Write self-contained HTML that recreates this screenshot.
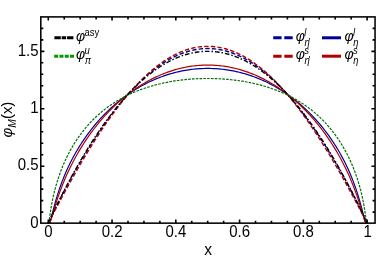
<!DOCTYPE html>
<html><head><meta charset="utf-8"><style>
html,body{margin:0;padding:0;background:#fff;}
svg{display:block;will-change:transform;}
text{font-family:"Liberation Sans",sans-serif;fill:#000;}
.i{font-style:italic;}
</style></head><body>
<svg width="377" height="259" viewBox="0 0 377 259">
<rect x="0" y="0" width="377" height="259" fill="#fff"/>
<defs><clipPath id="c"><rect x="40.8" y="16.9" width="334.25" height="206.25"/></clipPath></defs>
<g>
<g clip-path="url(#c)" fill="none" stroke-linejoin="round">
<polyline points="48.30,223.10 48.52,222.55 48.74,222.04 48.96,221.53 49.18,221.03 49.40,220.54 49.62,220.06 49.84,219.57 50.06,219.09 50.28,218.62 50.50,218.14 50.72,217.67 50.94,217.20 51.16,216.73 51.38,216.27 51.60,215.80 51.82,215.34 52.04,214.88 52.26,214.42 52.48,213.96 52.70,213.50 52.92,213.05 53.14,212.59 53.36,212.14 53.58,211.69 53.80,211.23 54.02,210.78 54.24,210.34 54.46,209.89 54.68,209.44 56.21,206.34 57.75,203.28 59.29,200.26 60.83,197.27 62.37,194.32 63.90,191.40 65.44,188.51 66.98,185.64 68.52,182.81 70.06,180.00 71.59,177.23 73.13,174.47 74.67,171.75 76.21,169.05 77.74,166.38 79.28,163.74 80.82,161.12 82.36,158.53 83.90,155.97 85.43,153.43 86.97,150.92 88.51,148.44 90.05,145.98 91.59,143.55 93.12,141.15 94.66,138.78 96.20,136.43 97.74,134.11 99.28,131.82 100.81,129.56 102.35,127.32 103.89,125.11 105.43,122.94 106.97,120.78 108.50,118.66 110.04,116.57 111.58,114.51 113.12,112.47 114.66,110.46 116.19,108.49 117.73,106.54 119.27,104.62 120.81,102.74 122.34,100.88 123.88,99.05 125.42,97.25 126.96,95.49 128.50,93.75 130.03,92.05 131.57,90.37 133.11,88.73 134.65,87.12 136.19,85.54 137.72,83.99 139.26,82.47 140.80,80.98 142.34,79.53 143.88,78.11 145.41,76.72 146.95,75.36 148.49,74.03 150.03,72.74 151.57,71.48 153.10,70.25 154.64,69.06 156.18,67.90 157.72,66.77 159.26,65.67 160.79,64.61 162.33,63.58 163.87,62.59 165.41,61.62 166.94,60.69 168.48,59.80 170.02,58.94 171.56,58.11 173.10,57.32 174.63,56.56 176.17,55.83 177.71,55.14 179.25,54.48 180.79,53.86 182.32,53.27 183.86,52.72 185.40,52.20 186.94,51.71 188.48,51.26 190.01,50.85 191.55,50.46 193.09,50.12 194.63,49.80 196.17,49.53 197.70,49.28 199.24,49.08 200.78,48.90 202.32,48.76 203.86,48.66 205.39,48.59 206.93,48.55 208.47,48.55 210.01,48.59 211.54,48.66 213.08,48.76 214.62,48.90 216.16,49.08 217.70,49.28 219.23,49.53 220.77,49.80 222.31,50.12 223.85,50.46 225.39,50.85 226.92,51.26 228.46,51.71 230.00,52.20 231.54,52.72 233.08,53.27 234.61,53.86 236.15,54.48 237.69,55.14 239.23,55.83 240.77,56.56 242.30,57.32 243.84,58.11 245.38,58.94 246.92,59.80 248.46,60.69 249.99,61.62 251.53,62.59 253.07,63.58 254.61,64.61 256.14,65.67 257.68,66.77 259.22,67.90 260.76,69.06 262.30,70.25 263.83,71.48 265.37,72.74 266.91,74.03 268.45,75.36 269.99,76.72 271.52,78.11 273.06,79.53 274.60,80.98 276.14,82.47 277.68,83.99 279.21,85.54 280.75,87.12 282.29,88.73 283.83,90.37 285.37,92.05 286.90,93.75 288.44,95.49 289.98,97.25 291.52,99.05 293.06,100.88 294.59,102.74 296.13,104.62 297.67,106.54 299.21,108.49 300.74,110.46 302.28,112.47 303.82,114.51 305.36,116.57 306.90,118.66 308.43,120.78 309.97,122.94 311.51,125.11 313.05,127.32 314.59,129.56 316.12,131.82 317.66,134.11 319.20,136.43 320.74,138.78 322.28,141.15 323.81,143.55 325.35,145.98 326.89,148.44 328.43,150.92 329.97,153.43 331.50,155.97 333.04,158.53 334.58,161.12 336.12,163.74 337.66,166.38 339.19,169.05 340.73,171.75 342.27,174.47 343.81,177.23 345.34,180.00 346.88,182.81 348.42,185.64 349.96,188.51 351.50,191.40 353.03,194.32 354.57,197.27 356.11,200.26 357.65,203.28 359.19,206.34 360.72,209.44 360.94,209.89 361.16,210.34 361.38,210.78 361.60,211.23 361.82,211.69 362.04,212.14 362.26,212.59 362.48,213.05 362.70,213.50 362.92,213.96 363.14,214.42 363.36,214.88 363.58,215.34 363.80,215.80 364.02,216.27 364.24,216.73 364.46,217.20 364.68,217.67 364.90,218.14 365.12,218.62 365.34,219.09 365.56,219.57 365.78,220.06 366.00,220.54 366.22,221.03 366.44,221.53 366.66,222.04 366.88,222.55 367.10,223.10" stroke="#000099" stroke-width="1.4" stroke-dasharray="4.4 2.2"/>
<polyline points="48.30,223.10 48.52,222.69 48.74,222.28 48.96,221.86 49.18,221.45 49.40,221.03 49.62,220.61 49.84,220.19 50.06,219.77 50.28,219.35 50.50,218.94 50.72,218.52 50.94,218.10 51.16,217.68 51.38,217.26 51.60,216.84 51.82,216.42 52.04,216.00 52.26,215.58 52.48,215.16 52.70,214.74 52.92,214.32 53.14,213.90 53.36,213.48 53.58,213.06 53.80,212.64 54.02,212.23 54.24,211.81 54.46,211.39 54.68,210.97 56.21,208.05 57.75,205.14 59.29,202.25 60.83,199.37 62.37,196.50 63.90,193.65 65.44,190.81 66.98,187.99 68.52,185.19 70.06,182.40 71.59,179.64 73.13,176.89 74.67,174.16 76.21,171.45 77.74,168.77 79.28,166.10 80.82,163.45 82.36,160.83 83.90,158.23 85.43,155.65 86.97,153.09 88.51,150.56 90.05,148.05 91.59,145.57 93.12,143.11 94.66,140.67 96.20,138.26 97.74,135.87 99.28,133.51 100.81,131.18 102.35,128.87 103.89,126.59 105.43,124.34 106.97,122.11 108.50,119.91 110.04,117.74 111.58,115.60 113.12,113.48 114.66,111.40 116.19,109.34 117.73,107.31 119.27,105.31 120.81,103.35 122.34,101.41 123.88,99.50 125.42,97.62 126.96,95.77 128.50,93.96 130.03,92.17 131.57,90.42 133.11,88.70 134.65,87.01 136.19,85.35 137.72,83.72 139.26,82.13 140.80,80.57 142.34,79.04 143.88,77.55 145.41,76.08 146.95,74.65 148.49,73.26 150.03,71.90 151.57,70.57 153.10,69.28 154.64,68.02 156.18,66.79 157.72,65.60 159.26,64.45 160.79,63.33 162.33,62.24 163.87,61.19 165.41,60.17 166.94,59.19 168.48,58.24 170.02,57.33 171.56,56.46 173.10,55.62 174.63,54.82 176.17,54.05 177.71,53.32 179.25,52.62 180.79,51.96 182.32,51.34 183.86,50.76 185.40,50.20 186.94,49.69 188.48,49.21 190.01,48.77 191.55,48.37 193.09,48.00 194.63,47.67 196.17,47.37 197.70,47.12 199.24,46.90 200.78,46.71 202.32,46.56 203.86,46.45 205.39,46.38 206.93,46.34 208.47,46.34 210.01,46.38 211.54,46.45 213.08,46.56 214.62,46.71 216.16,46.90 217.70,47.12 219.23,47.37 220.77,47.67 222.31,48.00 223.85,48.37 225.39,48.77 226.92,49.21 228.46,49.69 230.00,50.20 231.54,50.76 233.08,51.34 234.61,51.96 236.15,52.62 237.69,53.32 239.23,54.05 240.77,54.82 242.30,55.62 243.84,56.46 245.38,57.33 246.92,58.24 248.46,59.19 249.99,60.17 251.53,61.19 253.07,62.24 254.61,63.33 256.14,64.45 257.68,65.60 259.22,66.79 260.76,68.02 262.30,69.28 263.83,70.57 265.37,71.90 266.91,73.26 268.45,74.65 269.99,76.08 271.52,77.55 273.06,79.04 274.60,80.57 276.14,82.13 277.68,83.72 279.21,85.35 280.75,87.01 282.29,88.70 283.83,90.42 285.37,92.17 286.90,93.96 288.44,95.77 289.98,97.62 291.52,99.50 293.06,101.41 294.59,103.35 296.13,105.31 297.67,107.31 299.21,109.34 300.74,111.40 302.28,113.48 303.82,115.60 305.36,117.74 306.90,119.91 308.43,122.11 309.97,124.34 311.51,126.59 313.05,128.87 314.59,131.18 316.12,133.51 317.66,135.87 319.20,138.26 320.74,140.67 322.28,143.11 323.81,145.57 325.35,148.05 326.89,150.56 328.43,153.09 329.97,155.65 331.50,158.23 333.04,160.83 334.58,163.45 336.12,166.10 337.66,168.77 339.19,171.45 340.73,174.16 342.27,176.89 343.81,179.64 345.34,182.40 346.88,185.19 348.42,187.99 349.96,190.81 351.50,193.65 353.03,196.50 354.57,199.37 356.11,202.25 357.65,205.14 359.19,208.05 360.72,210.97 360.94,211.39 361.16,211.81 361.38,212.23 361.60,212.64 361.82,213.06 362.04,213.48 362.26,213.90 362.48,214.32 362.70,214.74 362.92,215.16 363.14,215.58 363.36,216.00 363.58,216.42 363.80,216.84 364.02,217.26 364.24,217.68 364.46,218.10 364.68,218.52 364.90,218.94 365.12,219.35 365.34,219.77 365.56,220.19 365.78,220.61 366.00,221.03 366.22,221.45 366.44,221.86 366.66,222.28 366.88,222.69 367.10,223.10" stroke="#b20000" stroke-width="1.4" stroke-dasharray="4.4 2.2"/>
<polyline points="48.30,223.10 48.52,223.10 48.74,223.10 48.96,223.09 49.18,223.03 49.40,222.87 49.62,222.60 49.84,222.20 50.06,221.71 50.28,221.12 50.50,220.46 50.72,219.74 50.94,218.97 51.16,218.18 51.38,217.35 51.60,216.51 51.82,215.66 52.04,214.79 52.26,213.93 52.48,213.06 52.70,212.19 52.92,211.32 53.14,210.46 53.36,209.60 53.58,208.75 53.80,207.91 54.02,207.07 54.24,206.24 54.46,205.42 54.68,204.61 56.21,199.16 57.75,194.11 59.29,189.41 60.83,185.02 62.37,180.90 63.90,177.01 65.44,173.33 66.98,169.83 68.52,166.50 70.06,163.32 71.59,160.27 73.13,157.34 74.67,154.52 76.21,151.81 77.74,149.19 79.28,146.66 80.82,144.21 82.36,141.84 83.90,139.55 85.43,137.32 86.97,135.17 88.51,133.07 90.05,131.03 91.59,129.05 93.12,127.12 94.66,125.25 96.20,123.42 97.74,121.64 99.28,119.91 100.81,118.22 102.35,116.57 103.89,114.97 105.43,113.41 106.97,111.88 108.50,110.39 110.04,108.94 111.58,107.52 113.12,106.14 114.66,104.79 116.19,103.47 117.73,102.19 119.27,100.94 120.81,99.72 122.34,98.52 123.88,97.36 125.42,96.23 126.96,95.12 128.50,94.04 130.03,92.99 131.57,91.96 133.11,90.96 134.65,89.99 136.19,89.04 137.72,88.12 139.26,87.22 140.80,86.34 142.34,85.49 143.88,84.67 145.41,83.86 146.95,83.08 148.49,82.32 150.03,81.58 151.57,80.87 153.10,80.18 154.64,79.50 156.18,78.85 157.72,78.23 159.26,77.62 160.79,77.03 162.33,76.46 163.87,75.92 165.41,75.39 166.94,74.89 168.48,74.40 170.02,73.93 171.56,73.49 173.10,73.06 174.63,72.65 176.17,72.27 177.71,71.90 179.25,71.55 180.79,71.21 182.32,70.90 183.86,70.61 185.40,70.33 186.94,70.08 188.48,69.84 190.01,69.62 191.55,69.42 193.09,69.24 194.63,69.08 196.17,68.93 197.70,68.80 199.24,68.69 200.78,68.60 202.32,68.53 203.86,68.48 205.39,68.44 206.93,68.42 208.47,68.42 210.01,68.44 211.54,68.48 213.08,68.53 214.62,68.60 216.16,68.69 217.70,68.80 219.23,68.93 220.77,69.08 222.31,69.24 223.85,69.42 225.39,69.62 226.92,69.84 228.46,70.08 230.00,70.33 231.54,70.61 233.08,70.90 234.61,71.21 236.15,71.55 237.69,71.90 239.23,72.27 240.77,72.65 242.30,73.06 243.84,73.49 245.38,73.93 246.92,74.40 248.46,74.89 249.99,75.39 251.53,75.92 253.07,76.46 254.61,77.03 256.14,77.62 257.68,78.23 259.22,78.85 260.76,79.50 262.30,80.18 263.83,80.87 265.37,81.58 266.91,82.32 268.45,83.08 269.99,83.86 271.52,84.67 273.06,85.49 274.60,86.34 276.14,87.22 277.68,88.12 279.21,89.04 280.75,89.99 282.29,90.96 283.83,91.96 285.37,92.99 286.90,94.04 288.44,95.12 289.98,96.23 291.52,97.36 293.06,98.52 294.59,99.72 296.13,100.94 297.67,102.19 299.21,103.47 300.74,104.79 302.28,106.14 303.82,107.52 305.36,108.94 306.90,110.39 308.43,111.88 309.97,113.41 311.51,114.97 313.05,116.57 314.59,118.22 316.12,119.91 317.66,121.64 319.20,123.42 320.74,125.25 322.28,127.12 323.81,129.05 325.35,131.03 326.89,133.07 328.43,135.17 329.97,137.32 331.50,139.55 333.04,141.84 334.58,144.21 336.12,146.66 337.66,149.19 339.19,151.81 340.73,154.52 342.27,157.34 343.81,160.27 345.34,163.32 346.88,166.50 348.42,169.83 349.96,173.33 351.50,177.01 353.03,180.90 354.57,185.02 356.11,189.41 357.65,194.11 359.19,199.16 360.72,204.61 360.94,205.42 361.16,206.24 361.38,207.07 361.60,207.91 361.82,208.75 362.04,209.60 362.26,210.46 362.48,211.32 362.70,212.19 362.92,213.06 363.14,213.93 363.36,214.79 363.58,215.66 363.80,216.51 364.02,217.35 364.24,218.18 364.46,218.97 364.68,219.74 364.90,220.46 365.12,221.12 365.34,221.71 365.56,222.20 365.78,222.60 366.00,222.87 366.22,223.03 366.44,223.09 366.66,223.10 366.88,223.10 367.10,223.10" stroke="#000099" stroke-width="1.2"/>
<polyline points="48.30,223.10 48.52,223.10 48.74,223.10 48.96,223.09 49.18,223.05 49.40,222.94 49.62,222.73 49.84,222.44 50.06,222.05 50.28,221.59 50.50,221.07 50.72,220.49 50.94,219.87 51.16,219.21 51.38,218.53 51.60,217.83 51.82,217.11 52.04,216.38 52.26,215.64 52.48,214.90 52.70,214.15 52.92,213.40 53.14,212.65 53.36,211.90 53.58,211.15 53.80,210.41 54.02,209.66 54.24,208.93 54.46,208.19 54.68,207.46 56.21,202.51 57.75,197.82 59.29,193.39 60.83,189.19 62.37,185.21 63.90,181.41 65.44,177.78 66.98,174.31 68.52,170.97 70.06,167.76 71.59,164.66 73.13,161.67 74.67,158.79 76.21,155.99 77.74,153.28 79.28,150.65 80.82,148.10 82.36,145.62 83.90,143.21 85.43,140.86 86.97,138.57 88.51,136.35 90.05,134.18 91.59,132.07 93.12,130.00 94.66,127.99 96.20,126.03 97.74,124.11 99.28,122.24 100.81,120.42 102.35,118.63 103.89,116.89 105.43,115.19 106.97,113.52 108.50,111.90 110.04,110.31 111.58,108.76 113.12,107.24 114.66,105.76 116.19,104.31 117.73,102.90 119.27,101.52 120.81,100.17 122.34,98.85 123.88,97.56 125.42,96.30 126.96,95.08 128.50,93.88 130.03,92.71 131.57,91.57 133.11,90.45 134.65,89.37 136.19,88.31 137.72,87.28 139.26,86.27 140.80,85.29 142.34,84.34 143.88,83.41 145.41,82.51 146.95,81.63 148.49,80.78 150.03,79.95 151.57,79.15 153.10,78.37 154.64,77.61 156.18,76.88 157.72,76.17 159.26,75.49 160.79,74.82 162.33,74.18 163.87,73.57 165.41,72.97 166.94,72.40 168.48,71.85 170.02,71.32 171.56,70.82 173.10,70.33 174.63,69.87 176.17,69.43 177.71,69.01 179.25,68.62 180.79,68.24 182.32,67.89 183.86,67.55 185.40,67.24 186.94,66.95 188.48,66.68 190.01,66.43 191.55,66.21 193.09,66.00 194.63,65.81 196.17,65.65 197.70,65.50 199.24,65.38 200.78,65.28 202.32,65.19 203.86,65.13 205.39,65.09 206.93,65.07 208.47,65.07 210.01,65.09 211.54,65.13 213.08,65.19 214.62,65.28 216.16,65.38 217.70,65.50 219.23,65.65 220.77,65.81 222.31,66.00 223.85,66.21 225.39,66.43 226.92,66.68 228.46,66.95 230.00,67.24 231.54,67.55 233.08,67.89 234.61,68.24 236.15,68.62 237.69,69.01 239.23,69.43 240.77,69.87 242.30,70.33 243.84,70.82 245.38,71.32 246.92,71.85 248.46,72.40 249.99,72.97 251.53,73.57 253.07,74.18 254.61,74.82 256.14,75.49 257.68,76.17 259.22,76.88 260.76,77.61 262.30,78.37 263.83,79.15 265.37,79.95 266.91,80.78 268.45,81.63 269.99,82.51 271.52,83.41 273.06,84.34 274.60,85.29 276.14,86.27 277.68,87.28 279.21,88.31 280.75,89.37 282.29,90.45 283.83,91.57 285.37,92.71 286.90,93.88 288.44,95.08 289.98,96.30 291.52,97.56 293.06,98.85 294.59,100.17 296.13,101.52 297.67,102.90 299.21,104.31 300.74,105.76 302.28,107.24 303.82,108.76 305.36,110.31 306.90,111.90 308.43,113.52 309.97,115.19 311.51,116.89 313.05,118.63 314.59,120.42 316.12,122.24 317.66,124.11 319.20,126.03 320.74,127.99 322.28,130.00 323.81,132.07 325.35,134.18 326.89,136.35 328.43,138.57 329.97,140.86 331.50,143.21 333.04,145.62 334.58,148.10 336.12,150.65 337.66,153.28 339.19,155.99 340.73,158.79 342.27,161.67 343.81,164.66 345.34,167.76 346.88,170.97 348.42,174.31 349.96,177.78 351.50,181.41 353.03,185.21 354.57,189.19 356.11,193.39 357.65,197.82 359.19,202.51 360.72,207.46 360.94,208.19 361.16,208.93 361.38,209.66 361.60,210.41 361.82,211.15 362.04,211.90 362.26,212.65 362.48,213.40 362.70,214.15 362.92,214.90 363.14,215.64 363.36,216.38 363.58,217.11 363.80,217.83 364.02,218.53 364.24,219.21 364.46,219.87 364.68,220.49 364.90,221.07 365.12,221.59 365.34,222.05 365.56,222.44 365.78,222.73 366.00,222.94 366.22,223.05 366.44,223.09 366.66,223.10 366.88,223.10 367.10,223.10" stroke="#b20000" stroke-width="1.2"/>
<polyline points="48.30,223.10 48.52,222.63 48.74,222.15 48.96,221.68 49.18,221.21 49.40,220.74 49.62,220.27 49.84,219.80 50.06,219.33 50.28,218.86 50.50,218.39 50.72,217.93 50.94,217.46 51.16,217.00 51.38,216.53 51.60,216.07 51.82,215.60 52.04,215.14 52.26,214.68 52.48,214.22 52.70,213.75 52.92,213.29 53.14,212.83 53.36,212.38 53.58,211.92 53.80,211.46 54.02,211.00 54.24,210.55 54.46,210.09 54.68,209.63 56.21,206.47 57.75,203.34 59.29,200.23 60.83,197.16 62.37,194.13 63.90,191.12 65.44,188.15 66.98,185.21 68.52,182.30 70.06,179.42 71.59,176.57 73.13,173.76 74.67,170.98 76.21,168.23 77.74,165.51 79.28,162.82 80.82,160.17 82.36,157.55 83.90,154.96 85.43,152.40 86.97,149.87 88.51,147.38 90.05,144.92 91.59,142.49 93.12,140.09 94.66,137.72 96.20,135.39 97.74,133.08 99.28,130.81 100.81,128.58 102.35,126.37 103.89,124.20 105.43,122.05 106.97,119.94 108.50,117.86 110.04,115.82 111.58,113.80 113.12,111.82 114.66,109.87 116.19,107.95 117.73,106.06 119.27,104.21 120.81,102.39 122.34,100.60 123.88,98.84 125.42,97.11 126.96,95.42 128.50,93.75 130.03,92.12 131.57,90.52 133.11,88.96 134.65,87.42 136.19,85.92 137.72,84.45 139.26,83.01 140.80,81.60 142.34,80.23 143.88,78.89 145.41,77.57 146.95,76.30 148.49,75.05 150.03,73.83 151.57,72.65 153.10,71.50 154.64,70.38 156.18,69.29 157.72,68.24 159.26,67.21 160.79,66.22 162.33,65.26 163.87,64.34 165.41,63.44 166.94,62.58 168.48,61.75 170.02,60.95 171.56,60.18 173.10,59.44 174.63,58.74 176.17,58.07 177.71,57.43 179.25,56.82 180.79,56.25 182.32,55.70 183.86,55.19 185.40,54.71 186.94,54.26 188.48,53.85 190.01,53.46 191.55,53.11 193.09,52.79 194.63,52.51 196.17,52.25 197.70,52.03 199.24,51.83 200.78,51.67 202.32,51.55 203.86,51.45 205.39,51.39 206.93,51.35 208.47,51.35 210.01,51.39 211.54,51.45 213.08,51.55 214.62,51.67 216.16,51.83 217.70,52.03 219.23,52.25 220.77,52.51 222.31,52.79 223.85,53.11 225.39,53.46 226.92,53.85 228.46,54.26 230.00,54.71 231.54,55.19 233.08,55.70 234.61,56.25 236.15,56.82 237.69,57.43 239.23,58.07 240.77,58.74 242.30,59.44 243.84,60.18 245.38,60.95 246.92,61.75 248.46,62.58 249.99,63.44 251.53,64.34 253.07,65.26 254.61,66.22 256.14,67.21 257.68,68.24 259.22,69.29 260.76,70.38 262.30,71.50 263.83,72.65 265.37,73.83 266.91,75.05 268.45,76.30 269.99,77.57 271.52,78.89 273.06,80.23 274.60,81.60 276.14,83.01 277.68,84.45 279.21,85.92 280.75,87.42 282.29,88.96 283.83,90.52 285.37,92.12 286.90,93.75 288.44,95.42 289.98,97.11 291.52,98.84 293.06,100.60 294.59,102.39 296.13,104.21 297.67,106.06 299.21,107.95 300.74,109.87 302.28,111.82 303.82,113.80 305.36,115.82 306.90,117.86 308.43,119.94 309.97,122.05 311.51,124.20 313.05,126.37 314.59,128.58 316.12,130.81 317.66,133.08 319.20,135.39 320.74,137.72 322.28,140.09 323.81,142.49 325.35,144.92 326.89,147.38 328.43,149.87 329.97,152.40 331.50,154.96 333.04,157.55 334.58,160.17 336.12,162.82 337.66,165.51 339.19,168.23 340.73,170.98 342.27,173.76 343.81,176.57 345.34,179.42 346.88,182.30 348.42,185.21 349.96,188.15 351.50,191.12 353.03,194.13 354.57,197.16 356.11,200.23 357.65,203.34 359.19,206.47 360.72,209.63 360.94,210.09 361.16,210.55 361.38,211.00 361.60,211.46 361.82,211.92 362.04,212.38 362.26,212.83 362.48,213.29 362.70,213.75 362.92,214.22 363.14,214.68 363.36,215.14 363.58,215.60 363.80,216.07 364.02,216.53 364.24,217.00 364.46,217.46 364.68,217.93 364.90,218.39 365.12,218.86 365.34,219.33 365.56,219.80 365.78,220.27 366.00,220.74 366.22,221.21 366.44,221.68 366.66,222.15 366.88,222.63 367.10,223.10" stroke="#000" stroke-width="1.4" stroke-dasharray="4.6 2.0 1.5 2.0"/>
<polyline points="48.30,223.10 48.52,223.09 48.74,222.73 48.96,221.75 49.18,220.39 49.40,218.86 49.62,217.29 49.84,215.72 50.06,214.18 50.28,212.68 50.50,211.23 50.72,209.83 50.94,208.47 51.16,207.16 51.38,205.89 51.60,204.66 51.82,203.47 52.04,202.32 52.26,201.20 52.48,200.10 52.70,199.04 52.92,198.00 53.14,196.99 53.36,196.00 53.58,195.04 53.80,194.09 54.02,193.17 54.24,192.27 54.46,191.38 54.68,190.51 56.21,184.85 57.75,179.80 59.29,175.20 60.83,170.98 62.37,167.07 63.90,163.43 65.44,160.00 66.98,156.78 68.52,153.73 70.06,150.84 71.59,148.09 73.13,145.47 74.67,142.97 76.21,140.58 77.74,138.29 79.28,136.09 80.82,133.98 82.36,131.96 83.90,130.01 85.43,128.13 86.97,126.32 88.51,124.58 90.05,122.89 91.59,121.27 93.12,119.70 94.66,118.19 96.20,116.72 97.74,115.31 99.28,113.94 100.81,112.61 102.35,111.33 103.89,110.09 105.43,108.89 106.97,107.73 108.50,106.60 110.04,105.51 111.58,104.45 113.12,103.43 114.66,102.43 116.19,101.47 117.73,100.54 119.27,99.63 120.81,98.76 122.34,97.91 123.88,97.09 125.42,96.29 126.96,95.52 128.50,94.77 130.03,94.05 131.57,93.34 133.11,92.66 134.65,92.00 136.19,91.37 137.72,90.75 139.26,90.15 140.80,89.57 142.34,89.01 143.88,88.47 145.41,87.95 146.95,87.44 148.49,86.96 150.03,86.48 151.57,86.03 153.10,85.59 154.64,85.17 156.18,84.76 157.72,84.37 159.26,83.99 160.79,83.62 162.33,83.28 163.87,82.94 165.41,82.62 166.94,82.31 168.48,82.02 170.02,81.73 171.56,81.46 173.10,81.21 174.63,80.96 176.17,80.73 177.71,80.51 179.25,80.30 180.79,80.11 182.32,79.92 183.86,79.75 185.40,79.59 186.94,79.44 188.48,79.30 190.01,79.17 191.55,79.06 193.09,78.95 194.63,78.86 196.17,78.77 197.70,78.70 199.24,78.63 200.78,78.58 202.32,78.54 203.86,78.51 205.39,78.49 206.93,78.48 208.47,78.48 210.01,78.49 211.54,78.51 213.08,78.54 214.62,78.58 216.16,78.63 217.70,78.70 219.23,78.77 220.77,78.86 222.31,78.95 223.85,79.06 225.39,79.17 226.92,79.30 228.46,79.44 230.00,79.59 231.54,79.75 233.08,79.92 234.61,80.11 236.15,80.30 237.69,80.51 239.23,80.73 240.77,80.96 242.30,81.21 243.84,81.46 245.38,81.73 246.92,82.02 248.46,82.31 249.99,82.62 251.53,82.94 253.07,83.28 254.61,83.62 256.14,83.99 257.68,84.37 259.22,84.76 260.76,85.17 262.30,85.59 263.83,86.03 265.37,86.48 266.91,86.96 268.45,87.44 269.99,87.95 271.52,88.47 273.06,89.01 274.60,89.57 276.14,90.15 277.68,90.75 279.21,91.37 280.75,92.00 282.29,92.66 283.83,93.34 285.37,94.05 286.90,94.77 288.44,95.52 289.98,96.29 291.52,97.09 293.06,97.91 294.59,98.76 296.13,99.63 297.67,100.54 299.21,101.47 300.74,102.43 302.28,103.43 303.82,104.45 305.36,105.51 306.90,106.60 308.43,107.73 309.97,108.89 311.51,110.09 313.05,111.33 314.59,112.61 316.12,113.94 317.66,115.31 319.20,116.72 320.74,118.19 322.28,119.70 323.81,121.27 325.35,122.89 326.89,124.58 328.43,126.32 329.97,128.13 331.50,130.01 333.04,131.96 334.58,133.98 336.12,136.09 337.66,138.29 339.19,140.58 340.73,142.97 342.27,145.47 343.81,148.09 345.34,150.84 346.88,153.73 348.42,156.78 349.96,160.00 351.50,163.43 353.03,167.07 354.57,170.98 356.11,175.20 357.65,179.80 359.19,184.85 360.72,190.51 360.94,191.38 361.16,192.27 361.38,193.17 361.60,194.09 361.82,195.04 362.04,196.00 362.26,196.99 362.48,198.00 362.70,199.04 362.92,200.10 363.14,201.20 363.36,202.32 363.58,203.47 363.80,204.66 364.02,205.89 364.24,207.16 364.46,208.47 364.68,209.83 364.90,211.23 365.12,212.68 365.34,214.18 365.56,215.72 365.78,217.29 366.00,218.86 366.22,220.39 366.44,221.75 366.66,222.73 366.88,223.09 367.10,223.10" stroke="#007000" stroke-width="1.2" stroke-dasharray="2.6 1.2"/>
</g>
<path d="M48.30,223.15v-3.6M48.30,16.9v3.6M64.24,223.15v-2.5M64.24,16.9v2.5M80.18,223.15v-2.5M80.18,16.9v2.5M96.12,223.15v-2.5M96.12,16.9v2.5M112.06,223.15v-3.6M112.06,16.9v3.6M128.00,223.15v-2.5M128.00,16.9v2.5M143.94,223.15v-2.5M143.94,16.9v2.5M159.88,223.15v-2.5M159.88,16.9v2.5M175.82,223.15v-3.6M175.82,16.9v3.6M191.76,223.15v-2.5M191.76,16.9v2.5M207.70,223.15v-2.5M207.70,16.9v2.5M223.64,223.15v-2.5M223.64,16.9v2.5M239.58,223.15v-3.6M239.58,16.9v3.6M255.52,223.15v-2.5M255.52,16.9v2.5M271.46,223.15v-2.5M271.46,16.9v2.5M287.40,223.15v-2.5M287.40,16.9v2.5M303.34,223.15v-3.6M303.34,16.9v3.6M319.28,223.15v-2.5M319.28,16.9v2.5M335.22,223.15v-2.5M335.22,16.9v2.5M351.16,223.15v-2.5M351.16,16.9v2.5M367.10,223.15v-3.6M367.10,16.9v3.6M40.8,212.12h2.5M375.05,212.12h-2.5M40.8,200.63h2.5M375.05,200.63h-2.5M40.8,189.14h2.5M375.05,189.14h-2.5M40.8,177.66h2.5M375.05,177.66h-2.5M40.8,166.18h3.6M375.05,166.18h-3.6M40.8,154.69h2.5M375.05,154.69h-2.5M40.8,143.20h2.5M375.05,143.20h-2.5M40.8,131.72h2.5M375.05,131.72h-2.5M40.8,120.23h2.5M375.05,120.23h-2.5M40.8,108.75h3.6M375.05,108.75h-3.6M40.8,97.26h2.5M375.05,97.26h-2.5M40.8,85.78h2.5M375.05,85.78h-2.5M40.8,74.29h2.5M375.05,74.29h-2.5M40.8,62.81h2.5M375.05,62.81h-2.5M40.8,51.33h3.6M375.05,51.33h-3.6M40.8,39.84h2.5M375.05,39.84h-2.5M40.8,28.35h2.5M375.05,28.35h-2.5" stroke="#000" stroke-width="1.6" fill="none"/>
<rect x="40.8" y="16.9" width="334.25" height="206.25" fill="none" stroke="#000" stroke-width="1.55"/>
<text transform="translate(48.40,236.9) scale(1,1.12)" font-size="15" text-anchor="middle">0</text>
<text transform="translate(112.16,236.9) scale(1,1.12)" font-size="15" text-anchor="middle">0.2</text>
<text transform="translate(175.92,236.9) scale(1,1.12)" font-size="15" text-anchor="middle">0.4</text>
<text transform="translate(239.68,236.9) scale(1,1.12)" font-size="15" text-anchor="middle">0.6</text>
<text transform="translate(303.44,236.9) scale(1,1.12)" font-size="15" text-anchor="middle">0.8</text>
<text transform="translate(367.70,236.9) scale(1,1.12)" font-size="15" text-anchor="middle">1</text>
<text transform="translate(38.5,228.40) scale(1,1.12)" font-size="15" text-anchor="end">0</text>
<text transform="translate(38.5,170.48) scale(1,1.12)" font-size="15" text-anchor="end">0.5</text>
<text transform="translate(38.5,113.05) scale(1,1.12)" font-size="15" text-anchor="end">1</text>
<text transform="translate(38.5,55.63) scale(1,1.12)" font-size="15" text-anchor="end">1.5</text>
<text transform="translate(208.2,254.7) scale(1.04,1.12)" font-size="15" text-anchor="middle">x</text>
<text transform="translate(12.1,137.4) rotate(-90) scale(1.03,1)" font-size="14.5"><tspan class="i">φ</tspan><tspan class="i" font-size="10" dy="3.7">M</tspan><tspan dy="-3.7">(x)</tspan></text>
<line x1="54.4" y1="37.8" x2="73.4" y2="37.8" stroke="#000" stroke-width="3" stroke-dasharray="6.4 0.9 4.5 0.9 6.4"/>
<text transform="translate(76.00,40.80)" font-size="14" class="i">φ</text>
<text transform="translate(84.50,35.80) scale(1,1.12)" font-size="9.5">asy</text>
<line x1="54.2" y1="56.2" x2="74.0" y2="56.2" stroke="#009900" stroke-width="3" stroke-dasharray="4 1.27"/>
<text transform="translate(76.00,59.20)" font-size="14" class="i">φ</text>
<text transform="translate(84.50,54.20) scale(1,1.12)" font-size="9.5" class="i">u</text>
<text transform="translate(84.70,64.10) scale(1,1.12)" font-size="9.5" class="i">π</text>
<line x1="273.2" y1="37.8" x2="292.7" y2="37.8" stroke="#000099" stroke-width="3" stroke-dasharray="8.4 2.7"/>
<text transform="translate(295.80,40.80)" font-size="14" class="i">φ</text>
<text transform="translate(304.30,35.80) scale(1,1.12)" font-size="9.5" class="i">l</text>
<text transform="translate(304.50,45.70) scale(1,1.12)" font-size="9.5" class="i">η<tspan dx="-1.7">′</tspan></text>
<line x1="273.2" y1="56.2" x2="292.7" y2="56.2" stroke="#b20000" stroke-width="3" stroke-dasharray="8.4 2.7"/>
<text transform="translate(295.80,59.20)" font-size="14" class="i">φ</text>
<text transform="translate(304.30,54.20) scale(1,1.12)" font-size="9.5" class="i">s</text>
<text transform="translate(304.50,64.10) scale(1,1.12)" font-size="9.5" class="i">η<tspan dx="-1.7">′</tspan></text>
<line x1="322" y1="37.8" x2="341" y2="37.8" stroke="#000099" stroke-width="3"/>
<text transform="translate(344.60,40.80)" font-size="14" class="i">φ</text>
<text transform="translate(353.10,35.80) scale(1,1.12)" font-size="9.5" class="i">l</text>
<text transform="translate(353.30,45.70) scale(1,1.12)" font-size="9.5" class="i">η</text>
<line x1="322" y1="56.2" x2="341" y2="56.2" stroke="#b20000" stroke-width="3"/>
<text transform="translate(344.60,59.20)" font-size="14" class="i">φ</text>
<text transform="translate(353.10,54.20) scale(1,1.12)" font-size="9.5" class="i">s</text>
<text transform="translate(353.30,64.10) scale(1,1.12)" font-size="9.5" class="i">η</text>
</g></svg></body></html>
